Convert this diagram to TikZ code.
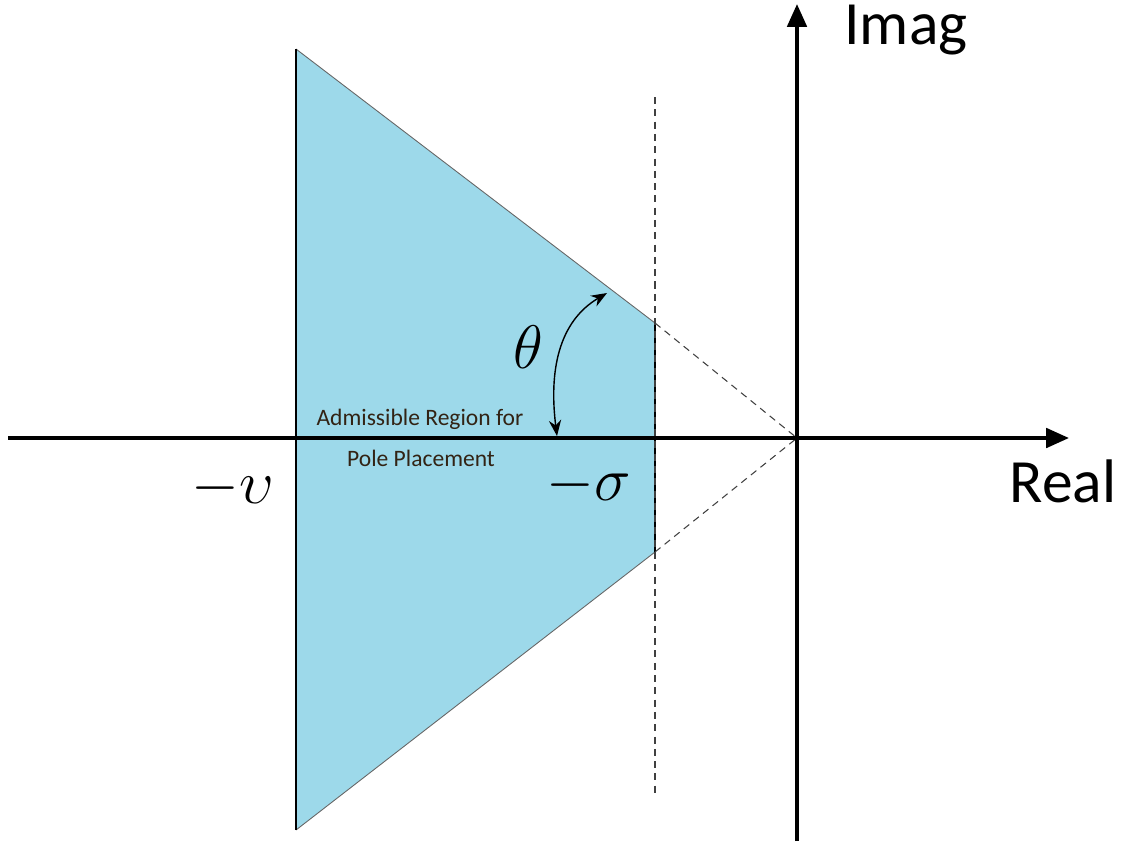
\documentclass[tikz,border=0pt]{standalone}
\usepackage{fix-cm}
\usepackage{fontspec}
\setmainfont{Carlito}
\usetikzlibrary{arrows.meta}
\definecolor{regionblue}{RGB}{157,217,234}
\definecolor{labelbrown}{RGB}{50,35,20}
\begin{document}
\begin{tikzpicture}[x=0.02cm,y=-0.02cm,
  axis/.style={line width=2.2pt,-{Triangle[length=13pt,width=11pt]}},
  edge/.style={line width=0.5pt,black!60},
  guide/.style={line width=0.6pt,black!75,dash pattern=on 4pt off 3pt},
  biglabel/.style={font=\fontsize{35}{40}\selectfont,inner sep=0pt,anchor=base},
  mathlabel/.style={font=\fontsize{35}{40}\selectfont,inner sep=0pt,anchor=base},
  smalllabel/.style={font=\fontsize{13.4}{15}\selectfont,text=labelbrown,inner sep=0pt,anchor=base},
  anglearrow/.style={line width=0.8pt,{Stealth[length=9pt,width=7pt]}-{Stealth[length=9pt,width=7pt]}}]
\useasboundingbox (0,0) rectangle (1122,843);
% key points
\coordinate (O) at (797,438);
\coordinate (xs) at (8,438);
\coordinate (xe) at (1069,438);
\coordinate (ys) at (797,841);
\coordinate (ye) at (797,4);
\coordinate (tl) at (296,49);
\coordinate (tr) at (655,323);
\coordinate (br) at (655,552);
\coordinate (bl) at (296,830);
\coordinate (dtop) at (655,97);
\coordinate (dbot) at (655,795);
\coordinate (atop) at (607,293);
\coordinate (abot) at (557,436);
% region
\fill[regionblue] (tl) -- (tr) -- (br) -- (bl) -- cycle;
\draw[edge] (tl) -- (tr);
\draw[edge] (bl) -- (br);
\draw[line width=0.7pt] (tl) -- (bl);
\draw[line width=0.7pt] (tr) -- (br);
% guides
\draw[guide] (dtop) -- (dbot);
\draw[guide] (tr) -- (O);
\draw[guide] (br) -- (O);
% axes
\draw[axis] (xs) -- (xe);
\draw[axis] (ys) -- (ye);
% angle arrow
\draw[anglearrow] (abot) .. controls (549,372) and (558,322) .. (atop);
% labels
\node[biglabel] (imag) at (906,44) {Imag};
\node[biglabel] (real) at (1063,502) {Real};
\node[mathlabel] (theta) at (528,368) {$\theta$};
\node[mathlabel] (nu) at (233,503) {$-\upsilon$};
\node[mathlabel] (sigma) at (589,500) {$-\sigma$};
\node[smalllabel] (adm) at (420,425) {Admissible Region for};
\node[smalllabel] (pole) at (421,466) {Pole Placement};
\end{tikzpicture}
\end{document}
